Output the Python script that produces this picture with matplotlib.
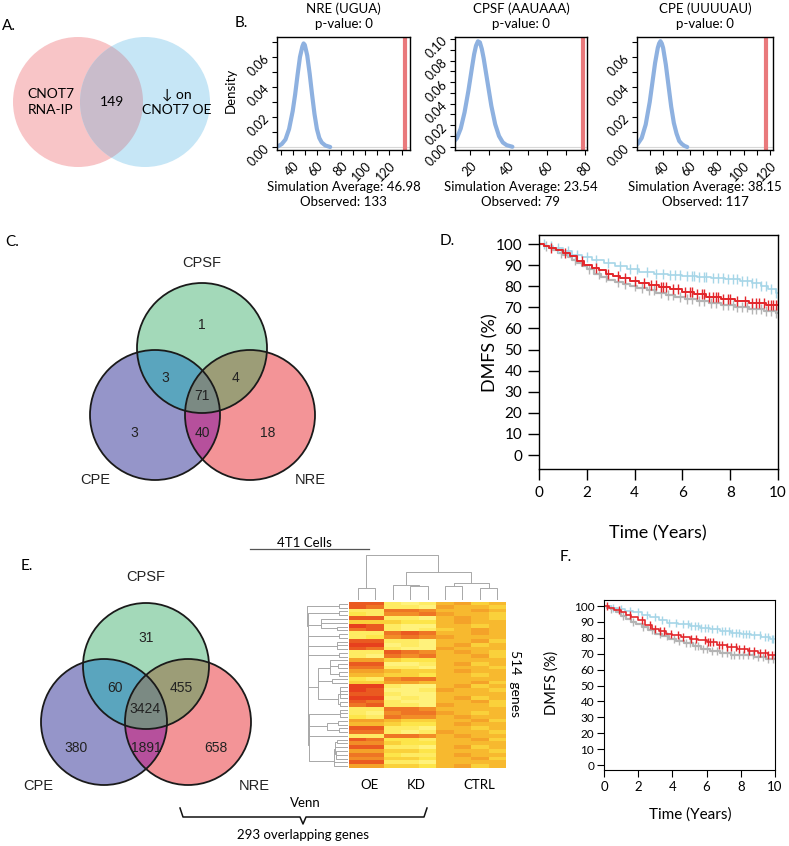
import numpy as np
import matplotlib
matplotlib.use('Agg')
import matplotlib.pyplot as plt
from matplotlib.patches import Circle, Polygon
from matplotlib.colors import LinearSegmentedColormap
from matplotlib.ticker import MultipleLocator, FormatStrFormatter

plt.rcParams['font.family'] = ['Lato', 'DejaVu Sans']
W, H = 789, 846

# ---------------- data ----------------
# A. two-set venn
a_names = ['CNOT7\nRNA-IP', '\u2193 on\nCNOT7 OE']
a_overlap = 149

# B. motif enrichment simulations (density curves)
motifs = ['NRE (UGUA)', 'CPSF (AAUAAA)', 'CPE (UUUUAU)']
p_values = [0, 0, 0]
sim_avg = [46.98, 23.54, 38.15]
observed = [133, 79, 117]
nre_x = [28, 31, 34, 37, 40, 42, 44, 46, 48, 49, 50, 52, 54, 56, 58, 60, 62, 64, 67, 71]
nre_y = [0.0005, 0.002, 0.005, 0.012, 0.024, 0.035, 0.048, 0.060, 0.067, 0.069, 0.068,
         0.061, 0.049, 0.035, 0.022, 0.012, 0.006, 0.003, 0.001, 0.0]
cpsf_x = [7, 10, 13, 15, 17, 19, 21, 22, 23, 24, 25, 26, 27, 29, 31, 33, 35, 37, 39, 42]
cpsf_y = [0.0, 0.002, 0.008, 0.017, 0.032, 0.052, 0.075, 0.086, 0.094, 0.098, 0.097,
          0.091, 0.082, 0.060, 0.038, 0.021, 0.010, 0.004, 0.0015, 0.0]
cpe_x = [21, 24, 27, 30, 32, 34, 36, 37, 38, 39, 40, 42, 44, 46, 48, 50, 52, 54, 56, 58]
cpe_y = [0.002, 0.006, 0.015, 0.030, 0.043, 0.056, 0.066, 0.069, 0.0705, 0.069, 0.066,
         0.055, 0.041, 0.027, 0.016, 0.009, 0.004, 0.002, 0.0007, 0.0]

# C / E. three-set venns, region order:
# CPSF only, CPE&CPSF, CPSF&NRE, all, CPE only, CPE&NRE, NRE only
venn_names = ['CPSF', 'CPE', 'NRE']
c_counts = [1, 3, 4, 71, 3, 40, 18]
e_counts = [31, 60, 455, 3424, 380, 1891, 658]

# D. KM, DMFS (%) vs years
d_low_t = [0, 0.2, 0.4, 0.6, 0.8, 1.0, 1.2, 1.4, 1.6, 1.8, 2.0, 2.3, 2.6, 2.9, 3.2, 3.5,
           3.8, 4.1, 4.5, 4.9, 5.3, 5.7, 6.1, 6.6, 7.1, 7.6, 8.2, 8.8, 9.4, 9.9]
d_low_s = [100, 99, 98, 97, 96, 95, 94, 92.5, 91, 89.5, 88, 86, 84.5, 83, 82, 81, 80, 79,
           78, 77, 76, 75, 74, 73, 72, 71, 70, 69, 68.5, 67.5]
d_low_c = [0.3, 0.9, 1.5, 2.1, 2.5, 2.8, 3.3, 3.6, 4.0, 4.3, 4.6, 4.8, 5.1, 5.4, 5.6, 5.9,
           6.2, 6.4, 6.7, 6.9, 7.2, 7.4, 7.7, 7.9, 8.1, 8.3, 8.5, 8.7, 8.9, 9.1, 9.3, 9.5,
           9.7, 9.9]
d_mid_t = [0, 0.2, 0.4, 0.7, 1.0, 1.3, 1.6, 1.9, 2.2, 2.5, 2.8, 3.1, 3.4, 3.8, 4.2, 4.6,
           5.0, 5.5, 6.0, 6.5, 7.0, 7.6, 8.2, 8.8, 9.5]
d_mid_s = [100, 99, 98, 97, 96, 94.5, 92, 90, 88.5, 87.5, 86, 85, 84, 82.5, 81.5, 80.5,
           79.5, 78.5, 77.5, 76.5, 75, 74, 73, 72, 71]
d_mid_c = [0.5, 1.1, 1.8, 2.4, 2.9, 3.3, 3.6, 4.0, 4.4, 4.7, 4.9, 5.1, 5.2, 5.3, 5.6, 5.8,
           6.1, 6.3, 6.4, 6.6, 6.8, 6.9, 7.1, 7.3, 7.4, 7.5, 7.7, 7.9, 8.0, 8.3, 8.6, 8.9,
           9.1, 9.2, 9.4, 9.6, 9.7, 9.8, 9.9, 10.0]
d_high_t = [0, 0.3, 0.6, 1.0, 1.4, 1.8, 2.2, 2.7, 3.2, 3.7, 4.2, 4.8, 5.4, 6.0, 6.6, 7.2,
            7.8, 8.4, 8.9, 9.3, 9.6, 9.9]
d_high_s = [100, 99, 98, 96.5, 95, 94, 92.5, 91, 89.5, 88, 87, 86, 85.5, 85, 84.5, 84,
            83.5, 82.5, 81.5, 80, 78.5, 77]
d_high_c = [0.2, 0.5, 0.8, 1.2, 1.6, 2.0, 2.4, 2.9, 3.4, 3.8, 4.1, 4.5, 4.9, 5.2, 5.5, 5.7,
            5.9, 6.2, 6.4, 6.5, 6.7, 6.9, 7.0, 7.3, 7.5, 7.7, 7.9, 8.1, 8.3, 8.5, 8.7, 8.9,
            9.1, 9.3, 9.5, 9.7, 9.9]
d_legend = ['Low expression (n=586)', 'Intermediate expression (n=431)',
            'High expression (n=362)']

# F. KM, second cohort
f_low_t = [0, 0.2, 0.4, 0.7, 1.0, 1.3, 1.6, 1.9, 2.2, 2.6, 3.0, 3.4, 3.8, 4.2, 4.7, 5.2,
           5.7, 6.2, 6.8, 7.4, 8.0, 8.8, 9.5]
f_low_s = [100, 99, 98, 96, 94, 92, 90, 88.5, 87, 85, 82.5, 81, 79.5, 78, 76.5, 75, 73,
           71.5, 70.5, 69.5, 69, 68, 67]
f_low_c = [0.4, 1.1, 1.7, 2.3, 2.8, 3.3, 3.7, 4.1, 4.4, 4.8, 5.0, 5.3, 5.5, 5.8, 6.0, 6.3,
           6.6, 6.9, 7.2, 7.4, 7.6, 7.9, 8.1, 8.4, 8.7, 9.0, 9.3, 9.6, 9.9]
f_mid_t = [0, 0.3, 0.6, 1.0, 1.3, 1.6, 2.0, 2.4, 2.8, 3.2, 3.6, 4.0, 4.5, 5.0, 5.5, 6.0,
           6.6, 7.2, 7.8, 8.4, 9.0, 9.6]
f_mid_s = [100, 99, 97.5, 96, 94.5, 93, 91, 88, 85.5, 84, 82.5, 81.5, 80.5, 79.5, 78.5,
           77.5, 75.5, 74, 73, 72, 70.5, 69]
f_mid_c = [0.2, 0.9, 1.5, 2.2, 2.7, 3.0, 3.3, 3.5, 3.9, 4.3, 4.6, 5.1, 5.4, 5.9, 6.1, 6.2,
           6.4, 6.7, 6.9, 7.2, 7.4, 7.7, 7.9, 8.2, 8.5, 8.8, 9.1, 9.4, 9.6, 9.8, 10.0]
f_high_t = [0, 0.4, 0.8, 1.2, 1.7, 2.2, 2.7, 3.2, 3.7, 4.3, 5.0, 5.6, 6.2, 6.8, 7.4, 8.0,
            8.6, 9.2, 9.7]
f_high_s = [100, 99, 98, 97, 96, 94.5, 93, 91, 89.5, 88.5, 87.5, 86.5, 85.5, 84, 83,
            82.5, 81.5, 80.5, 79]
f_high_c = [0.5, 1.0, 1.5, 2.0, 2.5, 3.0, 3.4, 3.8, 4.2, 4.6, 4.9, 5.1, 5.3, 5.5, 5.7,
            5.9, 6.1, 6.3, 6.6, 6.9, 7.1, 7.3, 7.5, 7.7, 7.9, 8.1, 8.3, 8.5, 8.8, 9.1, 9.4,
            9.6, 9.8, 9.9]
f_legend = ['Low (n=550)', 'Intermediate (n=391)', 'High (n=438)']

# heatmap, top to bottom (0 = red ... 9 = pale yellow); OE x2 | KD x3 | CTRL x4
hm_cols = ['OE', 'KD', 'CTRL']
hm_rows = [
    "11 898 5465", "12 889 4556", "88 223 5545", "78 332 4556", "11 889 5456",
    "66 677 5455", "01 899 5565", "21 898 6545", "88 212 5545", "87 323 4555",
    "11 889 5546", "00 989 5465", "12 899 4555", "88 123 5456", "89 232 5546",
    "44 677 5555", "11 998 5465", "22 889 5556", "44 566 5455", "55 667 5565",
    "78 322 5555", "66 445 5546", "00 899 5465", "01 998 4556", "11 899 5555",
    "00 989 5465", "12 899 5546", "21 889 4556", "88 223 5555", "89 322 4565",
    "78 233 5455", "44 566 5546", "55 677 5455", "11 889 5565", "22 898 4556",
    "88 223 5455", "12 778 5546", "33 677 5555", "11 889 5465", "44 667 5556",
    "22 788 5455", "33 667 5546", "11 889 5555", "44 667 5465",
]
# column dendrogram (height, left, right)
col_tree = (45, (12, 0, 1), (28, (15, 2, (14, 3, 4)), (17, (14, 5, 6), (12, 7, 8))))


# ---------------- helpers ----------------
def box(x0, y0, x1, y1):
    return [x0 / W, 1 - y1 / H, (x1 - x0) / W, (y1 - y0) / H]


def lens(circs, n=720):
    t = np.linspace(0, 2 * np.pi, n, endpoint=False)
    pts = []
    for cx, cy, r in circs:
        p = np.column_stack([cx + r * np.cos(t), cy + r * np.sin(t)])
        keep = np.ones(len(p), bool)
        for ox, oy, orr in circs:
            keep &= np.hypot(p[:, 0] - ox, p[:, 1] - oy) <= orr + 1e-6
        pts.append(p[keep])
    pts = np.vstack(pts)
    c = pts.mean(axis=0)
    return pts[np.argsort(np.arctan2(pts[:, 1] - c[1], pts[:, 0] - c[0]))]


venn_cols = ['#a3d9b9', '#9595c9', '#f39497']
pair_cols = {(0, 1): '#5aa5be', (0, 2): '#9c9d77', (1, 2): '#b6509c'}
triple_col = '#7b8a83'


def venn3(cv, circs, counts, cpos, npos, fs):
    for (cx, cy, r), col in zip(circs, venn_cols):
        cv.add_patch(Circle((cx, cy), r, fc=col, ec='none'))
    for (i, j), col in pair_cols.items():
        cv.add_patch(Polygon(lens([circs[i], circs[j]]), fc=col, ec='none'))
    cv.add_patch(Polygon(lens(circs), fc=triple_col, ec='none'))
    for cx, cy, r in circs:
        cv.add_patch(Circle((cx, cy), r, fill=False, ec='#1a1a1a', lw=1.3))
    for n, (x, y) in zip(counts, cpos):
        cv.text(x, y, str(n), ha='center', va='center', fontsize=fs,
                family='Liberation Sans', color='#222')
    for name, (x, y) in zip(venn_names, npos):
        cv.text(x, y, name, ha='center', va='center', fontsize=10.5,
                family='Liberation Sans', color='#222')


def km(ax, t, s, cens, color, lw, ms):
    t = np.array(t)
    s = np.array(s)
    ax.plot(np.append(t, 10), np.append(s, s[-1]), drawstyle='steps-post',
            color=color, lw=lw)
    idx = np.searchsorted(t, cens, side='right') - 1
    ax.plot(cens, s[idx], ls='none', marker='|', ms=ms, mew=1, color=color)


def cluster_ordered(X):
    # average linkage, only neighbouring clusters may merge (keeps row order)
    D = np.sqrt(((X[:, None, :] - X[None, :, :]) ** 2).sum(-1))
    cl = [(i, [i], 0.0) for i in range(len(X))]
    while len(cl) > 1:
        ds = [D[np.ix_(cl[k][1], cl[k + 1][1])].mean() for k in range(len(cl) - 1)]
        k = int(np.argmin(ds))
        h = max(ds[k], cl[k][2], cl[k + 1][2]) + 0.05
        cl[k:k + 2] = [((h, cl[k][0], cl[k + 1][0]), cl[k][1] + cl[k + 1][1], h)]
    return cl[0][0]


def draw_tree(ax, node, rows):
    if isinstance(node, (int, np.integer)):
        return node, 0
    p1, h1 = draw_tree(ax, node[1], rows)
    p2, h2 = draw_tree(ax, node[2], rows)
    h = node[0]
    if rows:
        ax.plot([h1, h, h, h2], [p1, p1, p2, p2], color='#a8a8a8', lw=0.7)
    else:
        ax.plot([p1, p1, p2, p2], [h1, h, h, h2], color='#a8a8a8', lw=0.7)
    return (p1 + p2) / 2, h


# ---------------- figure ----------------
fig = plt.figure(figsize=(W / 100, H / 100), dpi=100)
cv = fig.add_axes([0, 0, 1, 1])
cv.set_xlim(0, W)
cv.set_ylim(H, 0)
cv.axis('off')

labels = {'A.': (9, 26), 'B.': (241, 23), 'C.': (12, 242), 'D.': (447, 241),
          'E.': (27, 566), 'F.': (566, 557)}
for k, (x, y) in labels.items():
    cv.text(x, y, k, ha='center', va='center', fontsize=11)

# A
ca = [(78, 102, 65), (145, 102, 65)]
cv.add_patch(Circle(ca[0][:2], ca[0][2], fc='#f8c5c7', ec='none'))
cv.add_patch(Circle(ca[1][:2], ca[1][2], fc='#c6e6f6', ec='none'))
cv.add_patch(Polygon(lens(ca), fc='#c9bccb', ec='none'))
cv.text(51, 102, a_names[0], ha='center', va='center', fontsize=10, linespacing=1.3)
cv.text(112, 102, str(a_overlap), ha='center', va='center', fontsize=10)
cv.text(177, 102, a_names[1], ha='center', va='center', fontsize=10, linespacing=1.3)

# B
b_curves = [(nre_x, nre_y), (cpsf_x, cpsf_y), (cpe_x, cpe_y)]
b_boxes = [(277, 37, 410, 150), (455, 37, 587, 150), (637, 37, 773, 150)]
b_xlim = [(27, 137), (12, 81), (20.5, 122)]
b_ylim = [(-0.002, 0.0733), (-0.003, 0.102), (-0.002, 0.0733)]
for i in range(3):
    ax = fig.add_axes(box(*b_boxes[i]))
    ax.plot(b_curves[i][0], b_curves[i][1], color='#8eb1e0', lw=3, solid_capstyle='round')
    ax.axvline(observed[i], color='#e9797c', lw=3)
    ax.axhline(0, color='#d8d8d8', lw=0.8, zorder=0)
    ax.set_xlim(*b_xlim[i])
    ax.set_ylim(*b_ylim[i])
    ax.xaxis.set_major_locator(MultipleLocator(20))
    ax.xaxis.set_minor_locator(MultipleLocator(10))
    ax.yaxis.set_major_locator(MultipleLocator(0.02))
    ax.yaxis.set_minor_locator(MultipleLocator(0.01))
    ax.tick_params(which='both', direction='out', length=3.5, width=0.8, labelsize=9)
    ax.yaxis.set_major_formatter(FormatStrFormatter('%.2f'))
    for lab in ax.get_xticklabels():
        lab.set_rotation(45)
        lab.set_ha('right')
        lab.set_va('top')
        lab.set_rotation_mode('anchor')
    for lab in ax.get_yticklabels():
        lab.set_rotation(45)
        lab.set_ha('right')
        lab.set_va('center')
        lab.set_rotation_mode('anchor')
    for sp in ax.spines.values():
        sp.set_linewidth(1)
    cx = (b_boxes[i][0] + b_boxes[i][2]) / 2
    cv.text(cx, 9, motifs[i], ha='center', va='center', fontsize=9.5)
    cv.text(cx, 24, 'p-value: %d' % p_values[i], ha='center', va='center', fontsize=9.5)
    cv.text(cx, 187, 'Simulation Average: %.2f' % sim_avg[i], ha='center', va='center',
            fontsize=9.5)
    cv.text(cx, 202, 'Observed: %d' % observed[i], ha='center', va='center', fontsize=9.5)
cv.text(231, 90, 'Density', rotation=90, ha='center', va='center', fontsize=9.5)

# C
cc = [(202, 348, 65), (155, 415, 65), (250, 415, 65)]
venn3(cv, cc, c_counts,
      [(202, 325), (165, 378), (236, 378), (202, 396), (134, 433), (202, 433), (268, 433)],
      [(202, 263), (95, 480), (310, 480)], 10)

# E
ce = [(146, 666, 63), (104, 722, 63), (188, 722, 63)]
venn3(cv, ce, e_counts,
      [(146, 638), (115, 688), (181, 688), (145, 709), (76, 748), (146, 748), (216, 748)],
      [(146, 577), (38, 786), (254, 786)], 10)

# D
ax = fig.add_axes(box(539, 235, 778, 469))
km(ax, d_low_t, d_low_s, d_low_c, '#b4b4b4', 1.6, 7)
km(ax, d_high_t, d_high_s, d_high_c, '#a6d6e7', 1.2, 7)
km(ax, d_mid_t, d_mid_s, d_mid_c, '#e3262b', 1.4, 7)
ax.set_xlim(0, 10)
ax.set_ylim(-6.6, 104.3)
ax.set_xticks(range(0, 11, 2))
ax.set_yticks(range(0, 101, 10))
ax.tick_params(direction='out', length=8, width=1, labelsize=11, pad=4)
for sp in ax.spines.values():
    sp.set_linewidth(1)
cv.text(587, 377, 'p=0.0017', ha='left', va='center', fontsize=10)
for y, txt, col in zip([423, 438, 454], d_legend, ['#cfcfcf', '#e88a8c', '#c2e2ee']):
    cv.plot([550, 575], [y, y], color=col, lw=1.5)
    cv.text(587, y, txt, ha='left', va='center', fontsize=8.5)
cv.text(490, 353, 'DMFS (%)', rotation=90, ha='center', va='center', fontsize=13)
cv.text(658, 533, 'Time (Years)', ha='center', va='center', fontsize=13)

# F
ax = fig.add_axes(box(604, 600, 775, 770))
km(ax, f_low_t, f_low_s, f_low_c, '#b4b4b4', 1.6, 6)
km(ax, f_high_t, f_high_s, f_high_c, '#a6d6e7', 1.2, 6)
km(ax, f_mid_t, f_mid_s, f_mid_c, '#e3262b', 1.2, 6)
ax.set_xlim(0, 10)
ax.set_ylim(-3.1, 103.8)
ax.set_xticks(range(0, 11, 2))
ax.set_yticks(range(0, 101, 10))
ax.tick_params(axis='y', direction='out', length=5, width=0.8, labelsize=8.5, pad=2)
ax.tick_params(axis='x', direction='out', length=5, width=0.8, labelsize=9.5, pad=3)
for sp in ax.spines.values():
    sp.set_linewidth(0.8)
cv.text(628, 692, 'p=3x10$^{\\mathregular{-5}}$', ha='left', va='center', fontsize=9.5)
cv.text(638, 717, 'Expression', ha='left', va='center', fontsize=8.5)
cv.plot([638, 690], [723, 723], color='#333', lw=0.7)
for y, txt, col in zip([732, 747, 761], f_legend, ['#d2d2d2', '#e3262b', '#c2e2ee']):
    cv.plot([612, 628], [y, y], color=col, lw=1)
    cv.text(638, y, txt, ha='left', va='center', fontsize=8.5)
cv.text(552, 683, 'DMFS (%)', rotation=90, ha='center', va='center', fontsize=10.5)
cv.text(690, 815, 'Time (Years)', ha='center', va='center', fontsize=11)

# heatmap with dendrograms
M = np.array([[int(c) for c in r.replace(' ', '')] for r in hm_rows], float)
row_tree = cluster_ordered(M)
cmap = LinearSegmentedColormap.from_list('hm', ['#e7401d', '#f07d26', '#f6ad2a',
                                                '#fde444', '#fff27c'])
axh = fig.add_axes(box(349, 602, 506, 768))
axh.imshow(M, aspect='auto', cmap=cmap, vmin=0, vmax=9, interpolation='nearest')
axh.axis('off')

axr = fig.add_axes(box(307, 602, 348, 768))
draw_tree(axr, row_tree, True)
axr.set_ylim(len(M) - 0.5, -0.5)
axr.set_xlim(row_tree[0] * 1.01, 0)
axr.axis('off')

axc = fig.add_axes(box(349, 555, 506, 600))
draw_tree(axc, col_tree, False)
axc.set_xlim(-0.5, 8.5)
axc.set_ylim(0, col_tree[0] * 1.01)
axc.axis('off')

for name, x in zip(hm_cols, [370, 416, 479]):
    cv.text(x, 785, name, ha='center', va='center', fontsize=9.5)
cv.text(515, 683, '514  genes', rotation=270, ha='center', va='center', fontsize=10)
cv.text(304, 543, '4T1 Cells', ha='center', va='center', fontsize=9.5)
cv.plot([250, 369], [549, 549], color='#555', lw=0.9)

# curly bracket under Venn + heatmap
cv.plot([180, 183, 300, 303, 306, 424, 427], [808, 817, 817, 824, 817, 817, 808],
        color='#111', lw=1.1)
cv.text(305, 803, 'Venn', ha='center', va='center', fontsize=9.5)
cv.text(303, 835, '293 overlapping genes', ha='center', va='center', fontsize=9.5)

fig.savefig('out.png', dpi=100)
